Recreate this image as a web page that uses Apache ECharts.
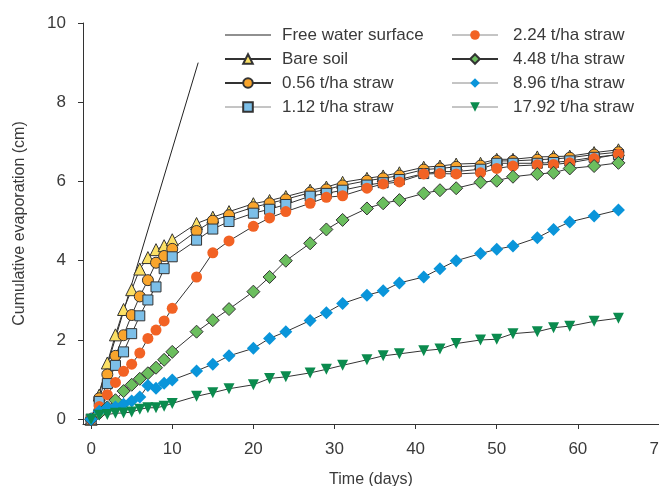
<!DOCTYPE html>
<html>
<head>
<meta charset="utf-8">
<script src="https://cdn.jsdelivr.net/npm/echarts@6/dist/echarts.min.js"></script>
<style>
html,body{margin:0;padding:0;background:#fff;}
#chart{width:659px;height:486px;}
</style>
</head>
<body>
<div id="chart"></div>
<script>
// ---- data ----
const days = [0,1,2,3,4,5,6,7,8,9,10,13,15,17,20,22,24,27,29,31,34,36,38,41,43,45,48,50,52,55,57,59,62,65];
const freeWaterDays = [0, 13.2];
const freeWater = [0, 9.0];
const bareSoil = [0,0.61,1.42,2.13,2.77,3.27,3.79,4.08,4.28,4.38,4.53,4.94,5.10,5.24,5.44,5.52,5.62,5.78,5.86,5.98,6.08,6.14,6.22,6.36,6.39,6.44,6.46,6.56,6.56,6.62,6.63,6.64,6.73,6.80];
const straw056 = [0,0.53,1.13,1.60,2.12,2.63,3.10,3.51,3.95,4.12,4.30,4.75,5.01,5.15,5.35,5.45,5.55,5.72,5.80,5.90,6.02,6.08,6.15,6.30,6.33,6.37,6.40,6.52,6.52,6.55,6.57,6.60,6.68,6.74];
const straw112 = [0,0.45,0.90,1.36,1.70,2.16,2.61,3.01,3.34,3.80,4.10,4.52,4.80,4.99,5.20,5.30,5.42,5.63,5.70,5.78,5.91,5.97,6.05,6.20,6.25,6.25,6.31,6.46,6.46,6.46,6.48,6.52,6.61,6.68];
const straw224 = [0,0.32,0.62,0.93,1.21,1.39,1.67,2.04,2.25,2.48,2.80,3.59,4.20,4.50,4.87,5.08,5.24,5.45,5.60,5.64,5.83,5.94,5.99,6.19,6.20,6.19,6.22,6.33,6.39,6.42,6.43,6.47,6.58,6.69];
const straw448 = [0,0.15,0.30,0.48,0.71,0.87,1.02,1.16,1.30,1.50,1.70,2.21,2.50,2.78,3.22,3.59,4.00,4.44,4.79,5.03,5.32,5.45,5.53,5.70,5.78,5.83,5.98,6.02,6.12,6.19,6.22,6.33,6.39,6.47];
const straw896 = [0,0.20,0.29,0.31,0.38,0.46,0.56,0.85,0.78,0.91,0.99,1.22,1.39,1.60,1.79,2.04,2.21,2.49,2.69,2.92,3.13,3.24,3.44,3.59,3.80,4.00,4.18,4.29,4.37,4.58,4.79,4.98,5.13,5.28];
const straw1792 = [0,0.10,0.12,0.15,0.16,0.18,0.25,0.29,0.29,0.33,0.40,0.58,0.67,0.77,0.87,1.03,1.07,1.17,1.26,1.36,1.50,1.60,1.65,1.73,1.77,1.91,2.00,2.02,2.16,2.21,2.31,2.35,2.47,2.55];
const xTicks = [0,10,20,30,40,50,60,70];
const yTicks = [0,2,4,6,8,10];
const names = ['Free water surface','Bare soil','0.56 t/ha straw','1.12 t/ha straw','2.24 t/ha straw','4.48 t/ha straw','8.96 t/ha straw','17.92 t/ha straw'];

// ---- chart ----
const FONT = 'Liberation Sans, Arial, sans-serif';
const TXT = '#3a3a3a';
const pair = (xs, ys) => xs.map((x, i) => [x, ys[i]]);

function mk(name, vals, symbol, size, fill, border, rotate) {
  return {
    name, type: 'line', data: pair(days, vals),
    symbol, symbolSize: size, symbolRotate: rotate || 0,
    showAllSymbol: true,
    lineStyle: {color: '#333', width: 1},
    itemStyle: {color: fill, borderColor: border || fill, borderWidth: border ? 1 : 0},
    emphasis: {disabled: true},
    animation: false
  };
}

const chart = echarts.init(document.getElementById('chart'), null, {renderer: 'canvas'});
const legendCommon = {
  orient: 'vertical', top: 20, itemWidth: 46, itemHeight: 12, itemGap: 4,
  selectedMode: false
};
const grayLine = {color: '#8a8a8a', width: 1};
const legend1 = [
  {name: names[0], icon: 'path://M0,0H200V5H0Z'},
  {name: names[1]},
  {name: names[2]},
  {name: names[3], lineStyle: grayLine}
];
const legend2 = names.slice(4).map((n, i) => i === 1 ? {name: n} : {name: n, lineStyle: grayLine});
chart.setOption({
  animation: false,
  grid: {left: 83, right: 0, top: 23, bottom: 62, containLabel: false, outerBoundsMode: 'none'},
  legend: [
    Object.assign({}, legendCommon, {left: 219, data: legend1,
      textStyle: {fontFamily: FONT, fontSize: 17, color: TXT, lineHeight: 20, padding: [0,0,0,6]}}),
    Object.assign({}, legendCommon, {left: 446, data: legend2,
      textStyle: {fontFamily: FONT, fontSize: 17, color: TXT, lineHeight: 20, padding: [0,0,0,10]}})
  ],
  xAxis: {
    type: 'value', min: -1, max: 70,
    name: 'Time (days)', nameLocation: 'middle', nameGap: 48,
    nameTextStyle: {fontFamily: FONT, fontSize: 16, color: TXT},
    axisLine: {show: true, onZero: false, lineStyle: {color: '#333', width: 1}},
    axisTick: {show: true, length: 5, customValues: xTicks, lineStyle: {color: '#333'}},
    axisLabel: {customValues: xTicks, fontFamily: FONT, fontSize: 17, color: TXT, margin: 17, hideOverlap: false},
    splitLine: {show: false}
  },
  yAxis: {
    type: 'value', min: -0.12, max: 10,
    name: 'Cumulative evaporation (cm)', nameLocation: 'middle', nameGap: 55, nameRotate: 90,
    nameTextStyle: {fontFamily: FONT, fontSize: 16, color: TXT},
    axisLine: {show: true, onZero: false, lineStyle: {color: '#333', width: 1}},
    axisTick: {show: true, length: 5, customValues: yTicks, lineStyle: {color: '#333'}},
    axisLabel: {customValues: yTicks, fontFamily: FONT, fontSize: 17, color: TXT, margin: 17},
    splitLine: {show: false}
  },
  series: [
    {
      name: names[0], type: 'line', data: pair(freeWaterDays, freeWater),
      symbol: 'none', lineStyle: {color: '#222', width: 1}, itemStyle: {color: '#222'},
      emphasis: {disabled: true}, animation: false
    },
    mk(names[1], bareSoil, 'triangle', 12, '#FBE065', '#333'),
    mk(names[2], straw056, 'circle', 11, '#F9A52C', '#333'),
    mk(names[3], straw112, 'rect', 10, '#7CBFE8', '#333'),
    mk(names[4], straw224, 'circle', 11, '#F26224'),
    mk(names[5], straw448, 'diamond', 13, '#6BBE5E', '#333'),
    mk(names[6], straw896, 'diamond', 13, '#0A95DA'),
    mk(names[7], straw1792, 'triangle', 11, '#0B8B4E', null, 180)
  ]
});
</script>
</body>
</html>
